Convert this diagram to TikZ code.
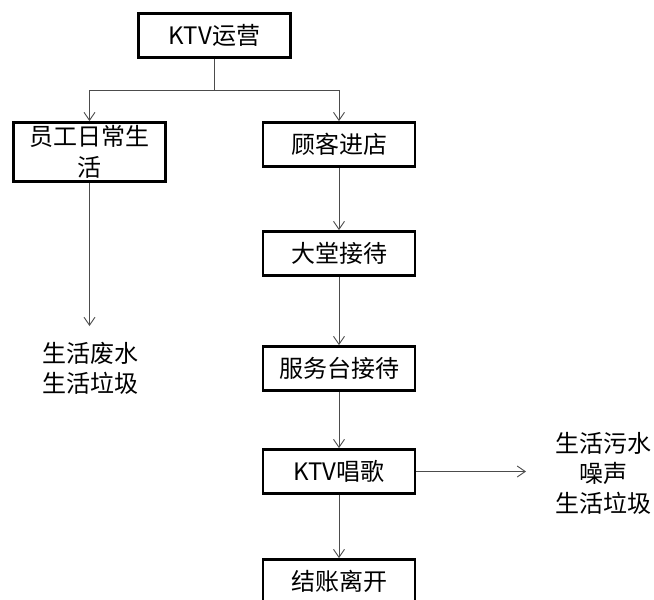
\documentclass[tikz,border=0pt]{standalone}
\usepackage{fontspec}
\setmainfont{Noto Sans CJK SC}
\usetikzlibrary{arrows.meta}
\begin{document}
\begin{tikzpicture}[x=1pt,y=-1pt,
  box/.style={draw=black,line width=2.8pt,minimum width=152pt,minimum height=44pt,inner sep=0pt,
    font=\fontsize{24}{30.5}\selectfont,fill=white},
  conn/.style={draw=black!70,line width=0.9pt},
  arr/.style={conn,-{Straight Barb[length=8pt,width=11pt,line width=0.9pt]}},
  wastetext/.style={font=\fontsize{24}{30}\selectfont,align=center,inner sep=0pt}]
\clip (0,0) rectangle (654,600);
\fill[white] (0,0) rectangle (654,600);
\node[box] (top) at (214.5,35.5) {KTV运营};
\node[box,minimum height=59pt,align=center] (staff) at (89.5,152) {员工日常生\\活};
\node[box] (c1) at (339,144.5) {顾客进店};
\node[box] (c2) at (339,253.5) {大堂接待};
\node[box] (c3) at (339,368.5) {服务台接待};
\node[box] (c4) at (339,471.5) {KTV唱歌};
\node[box] (c5) at (339,581.5) {结账离开};
\node[wastetext] (w1) at (90,368) {生活废水\\生活垃圾};
\node[wastetext] (w2) at (603,473) {生活污水\\噪声\\生活垃圾};
\coordinate (j) at (214.5,90);
\coordinate (jl) at (89.5,90);
\coordinate (jr) at (339,90);
\coordinate (wl) at (89.5,326);
\coordinate (wr) at (526,471.5);
\draw[conn] (top.south) -- (j);
\draw[conn] (jl) -- (jr);
\draw[arr] (jl) -- (staff.north);
\draw[arr] (jr) -- (c1.north);
\draw[arr] (staff.south) -- (wl);
\draw[arr] (c1.south) -- (c2.north);
\draw[arr] (c2.south) -- (c3.north);
\draw[arr] (c3.south) -- (c4.north);
\draw[arr] (c4.south) -- (c5.north);
\draw[arr] (c4.east) -- (wr);
\end{tikzpicture}
\end{document}
